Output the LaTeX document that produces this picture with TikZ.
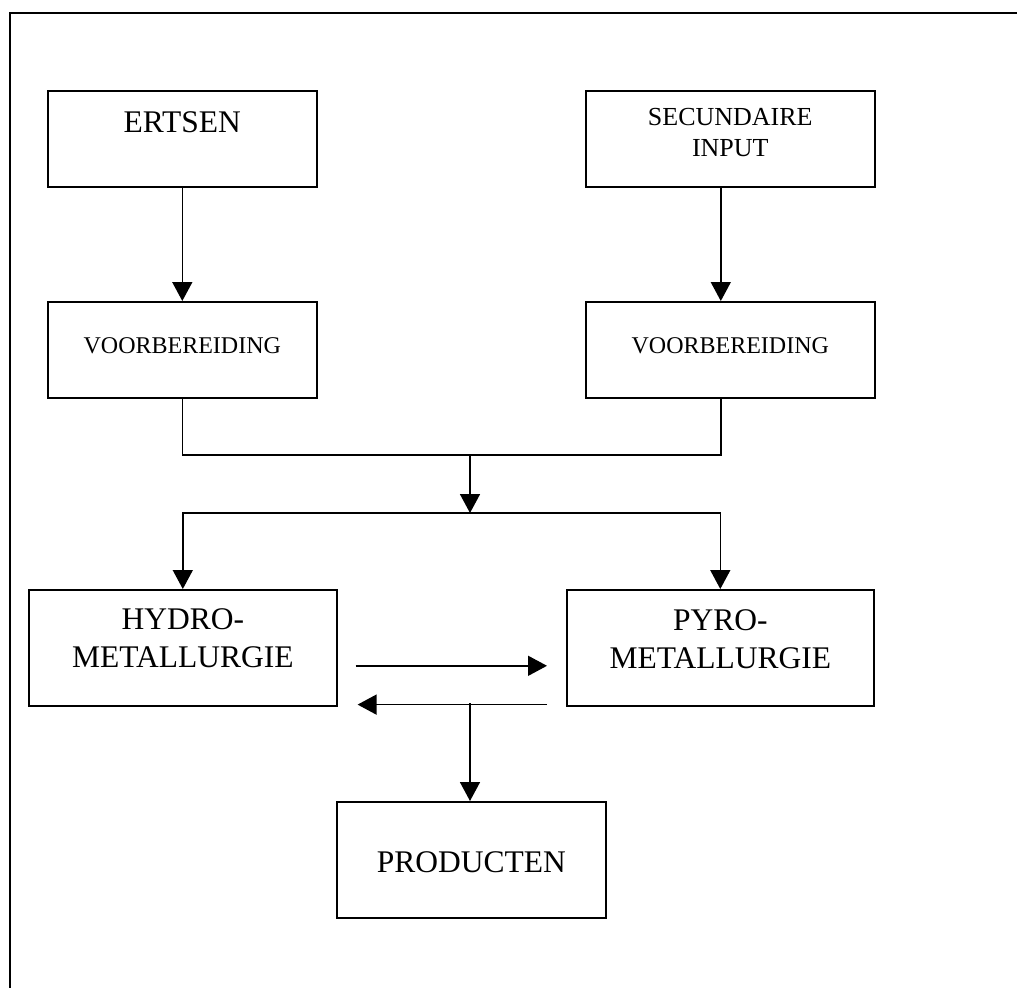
\documentclass[tikz,border=0pt]{standalone}
\usepackage{fontspec}
\setmainfont{Liberation Serif}
\usetikzlibrary{arrows.meta}
\newcommand\groot{\fontsize{31.5}{38}\selectfont}
\newcommand\midden{\fontsize{26}{31}\selectfont}
\newcommand\klein{\fontsize{24}{28}\selectfont}
\tikzset{
    blok/.style={draw, line width=1.6pt, inner sep=0pt, anchor=north west, align=center},
    lijn/.style={line width=1.6pt},
    pijl/.style={line width=1.6pt, -{Triangle[length=19pt,width=20pt]}}
}
\begin{document}
\begin{tikzpicture}[x=1pt,y=-1pt]
    \useasboundingbox (0,0) rectangle (1017,988);
    \draw[lijn] (1017,13) -- (10,13) -- (10,988);

    \node[blok, font=\groot, text width=269pt, text height=42pt, text depth=54pt] (ertsen) at (47,90) {ERTSEN};
    \node[blok, font=\midden, text width=289pt, text height=35pt, text depth=61pt] (input) at (585,90) {SECUNDAIRE\\INPUT};
    \node[blok, font=\klein, text width=269pt, text height=52pt, text depth=44pt] (voorL) at (47,301) {VOORBEREIDING};
    \node[blok, font=\klein, text width=289pt, text height=52pt, text depth=44pt] (voorR) at (585,301) {VOORBEREIDING};
    \node[blok, font=\groot, text width=308pt, text height=40pt, text depth=76pt] (hydro) at (28,589) {HYDRO-\\METALLURGIE};
    \node[blok, font=\groot, text width=307pt, text height=41pt, text depth=75pt] (pyro) at (566,589) {PYRO-\\METALLURGIE};
    \node[blok, font=\groot, text width=269pt, text height=71pt, text depth=45pt] (producten) at (336,801) {PRODUCTEN};

    \coordinate (samen) at (470,455);
    \coordinate (verdeel) at (470,513);
    \coordinate (aftak) at (470,703);

    \draw[pijl] (ertsen.south) -- (voorL.north);
    \draw[pijl] ([xshift=-9.5pt]input.south) -- ([xshift=-9.5pt]voorR.north);
    \draw[lijn] (voorL.south) |- (samen) -| ([xshift=-9.5pt]voorR.south);
    \draw[pijl] (samen) -- (verdeel);
    \draw[pijl] (verdeel) -| (hydro.north);
    \draw[pijl] (verdeel) -| (pyro.north);
    \draw[pijl] ([shift={(18pt,-18pt)}]hydro.east) -- ([shift={(-19pt,-18pt)}]pyro.west);
    \draw[pijl] ([shift={(-19pt,2pt)}]pyro.south west) -- ([shift={(20pt,2pt)}]hydro.south east);
    \draw[pijl] (aftak) -- (aftak |- producten.north);
\end{tikzpicture}
\end{document}
